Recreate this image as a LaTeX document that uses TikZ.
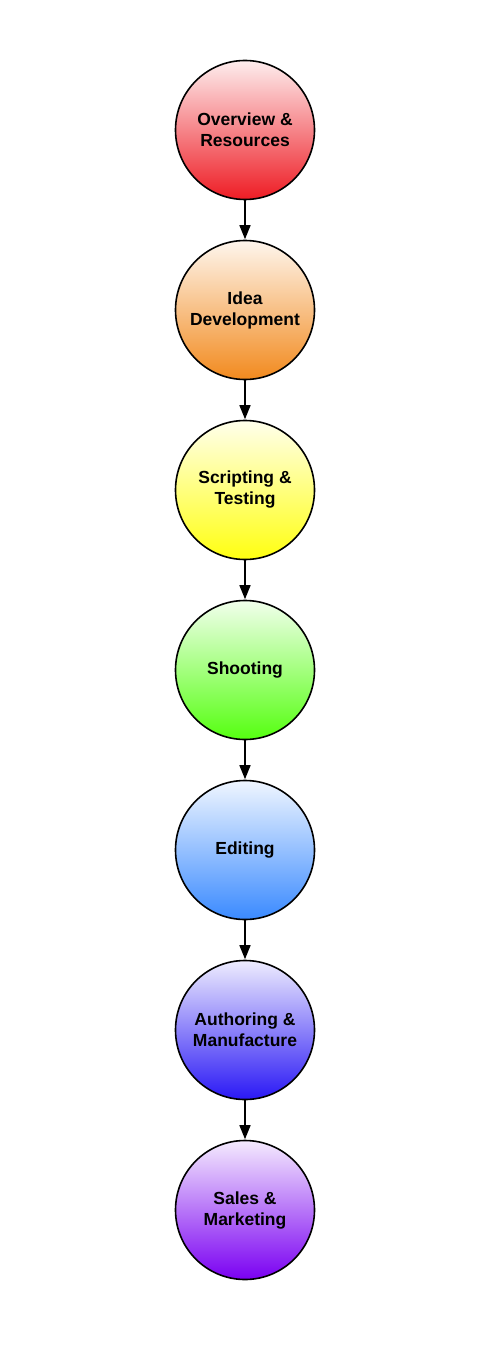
\documentclass[tikz,border=0pt]{standalone}
\usepackage{fontspec}
\setmainfont{Liberation Sans}
\usetikzlibrary{arrows.meta}
\definecolor{cred}{HTML}{EE1C24}
\definecolor{corange}{HTML}{F28A1E}
\definecolor{cyellow}{HTML}{FFFF10}
\definecolor{cgreen}{HTML}{55FF10}
\definecolor{cblue}{HTML}{3A8AFF}
\definecolor{cindigo}{HTML}{2A18F5}
\definecolor{cviolet}{HTML}{7A00F2}
\tikzset{
  stage/.style={circle, draw=black, line width=1.6pt, minimum size=139pt, inner sep=0pt,
    align=center, font=\fontsize{17.5}{21}\selectfont\bfseries,
    top color=white!92!#1, bottom color=#1},
  flow/.style={-{Triangle[length=14pt,width=11pt]}, line width=1.5pt, shorten >=0.5pt}
}
\begin{document}
\begin{tikzpicture}[x=1pt,y=-1pt]
\useasboundingbox (0,0) rectangle (478,1367);
\node[stage=cred] (a) at (245,130) {Overview \&\\Resources};
\node[stage=corange] (b) at (245,310) {Idea\\Development};
\node[stage=cyellow] (c) at (245,490) {Scripting \&\\Testing};
\node[stage=cgreen] (d) at (245,670) {Shooting};
\node[stage=cblue] (e) at (245,850) {Editing};
\node[stage=cindigo] (f) at (245,1030) {Authoring \&\\Manufacture};
\node[stage=cviolet] (g) at (245,1210) {Sales \&\\Marketing};
\draw[flow] (a) -- (b);
\draw[flow] (b) -- (c);
\draw[flow] (c) -- (d);
\draw[flow] (d) -- (e);
\draw[flow] (e) -- (f);
\draw[flow] (f) -- (g);
\end{tikzpicture}
\end{document}
